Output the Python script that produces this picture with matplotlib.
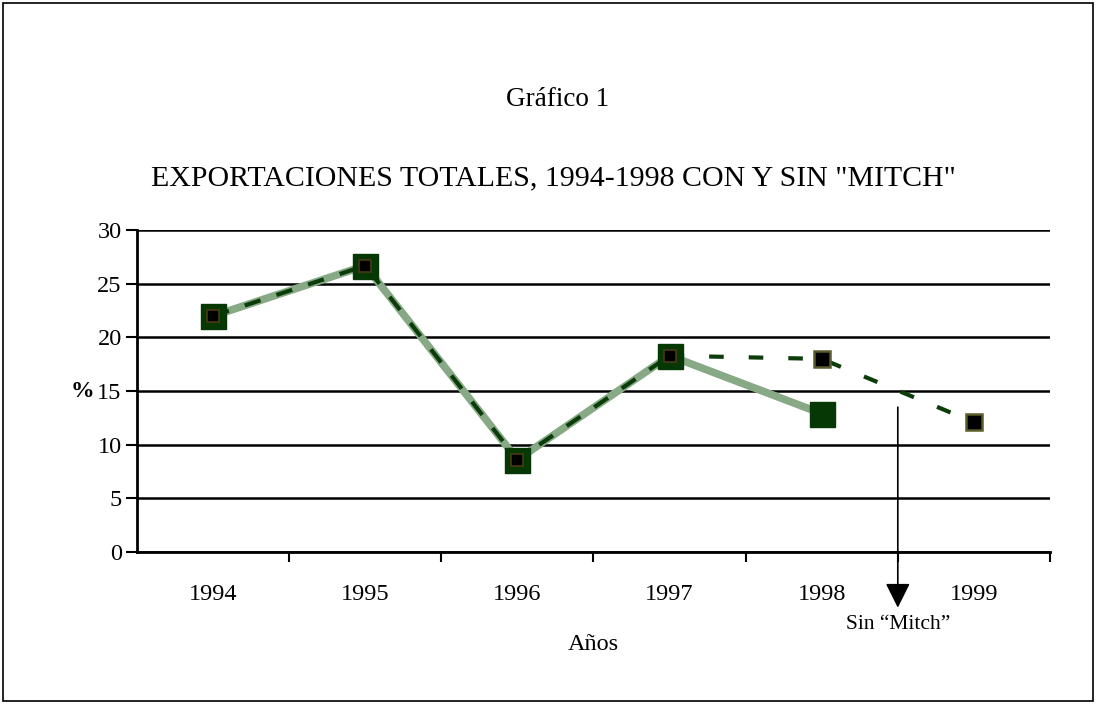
import numpy as np
import matplotlib.pyplot as plt
from matplotlib.patches import Rectangle

plt.rcParams['font.family'] = ['Liberation Serif', 'DejaVu Serif']

years = ['1994', '1995', '1996', '1997', '1998', '1999']
con_mitch = [22.0, 26.7, 8.6, 18.3, 12.9]
sin_mitch = [22.0, 26.7, 8.6, 18.3, 18.0, 12.1]

fig = plt.figure(figsize=(10.96, 7.04), dpi=100)
fig.patches.append(Rectangle((0.003, 0.004), 0.994, 0.992, transform=fig.transFigure,
                             fill=False, edgecolor='black', linewidth=1.2))
ax = fig.add_axes([0.125, 0.216, 0.833, 0.457])

x_con = np.arange(len(con_mitch))
x_sin = np.arange(len(sin_mitch))

light = '#88a986'
dark = '#0b3d0b'

ax.plot(x_con, con_mitch, color=light, linewidth=5.5, solid_capstyle='butt', zorder=3)
ax.plot(x_sin[:4], sin_mitch[:4], color=dark, linewidth=3, dashes=(4, 4), zorder=4)
ax.plot(x_sin[3:], sin_mitch[3:], color=dark, linewidth=3, dashes=(3.5, 6), zorder=4)

ax.plot(x_con, con_mitch, linestyle='none', marker='s', markersize=18,
        markerfacecolor='#053805', markeredgecolor='#053805', zorder=5)
ax.plot(x_sin[:4], sin_mitch[:4], linestyle='none', marker='s', markersize=9,
        markerfacecolor='black', markeredgecolor='#4a3a12', markeredgewidth=1.2, zorder=6)
ax.plot(x_sin[4:], sin_mitch[4:], linestyle='none', marker='s', markersize=11,
        markerfacecolor='black', markeredgecolor='#5a5a2a', markeredgewidth=1.8, zorder=6)

ax.set_xlim(-0.5, 5.5)
ax.set_ylim(0, 30)
ax.set_yticks(np.arange(0, 31, 5))
ax.grid(axis='y', color='black', linewidth=1.8)
ax.set_axisbelow(True)

ax.set_xticks(x_sin)
ax.set_xticklabels(years)
ax.set_xticks(np.arange(0.5, 6, 1), minor=True)
ax.tick_params(axis='x', which='major', length=0, pad=23, labelsize=17.5)
ax.tick_params(axis='x', which='minor', length=7, width=1.5, direction='out')
ax.tick_params(axis='y', length=8, width=1.5, direction='out', pad=3, labelsize=17.5)

for s in ['top', 'right']:
    ax.spines[s].set_visible(False)
for s in ['left', 'bottom']:
    ax.spines[s].set_linewidth(2)

ax.set_xlabel('Años', fontsize=17.5, labelpad=21)
ax.text(-0.047, 15, '%', transform=ax.get_yaxis_transform(), fontsize=17,
        fontweight='bold', ha='right', va='center')

ax.annotate('', xy=(4.5, -5.2), xytext=(4.5, 13.5),
            arrowprops=dict(arrowstyle='-|>', color='black', linewidth=1.2,
                            mutation_scale=38, shrinkA=0, shrinkB=0),
            annotation_clip=False, zorder=7)
ax.text(4.5, -6.8, 'Sin “Mitch”', fontsize=15.5, ha='center', va='center')

fig.text(0.509, 0.858, 'Gráfico 1', fontsize=19.5, ha='center', va='center')
fig.text(0.505, 0.747, 'EXPORTACIONES TOTALES, 1994-1998 CON Y SIN "MITCH"',
         fontsize=21.5, ha='center', va='center')

fig.savefig('out.png', dpi=100)
